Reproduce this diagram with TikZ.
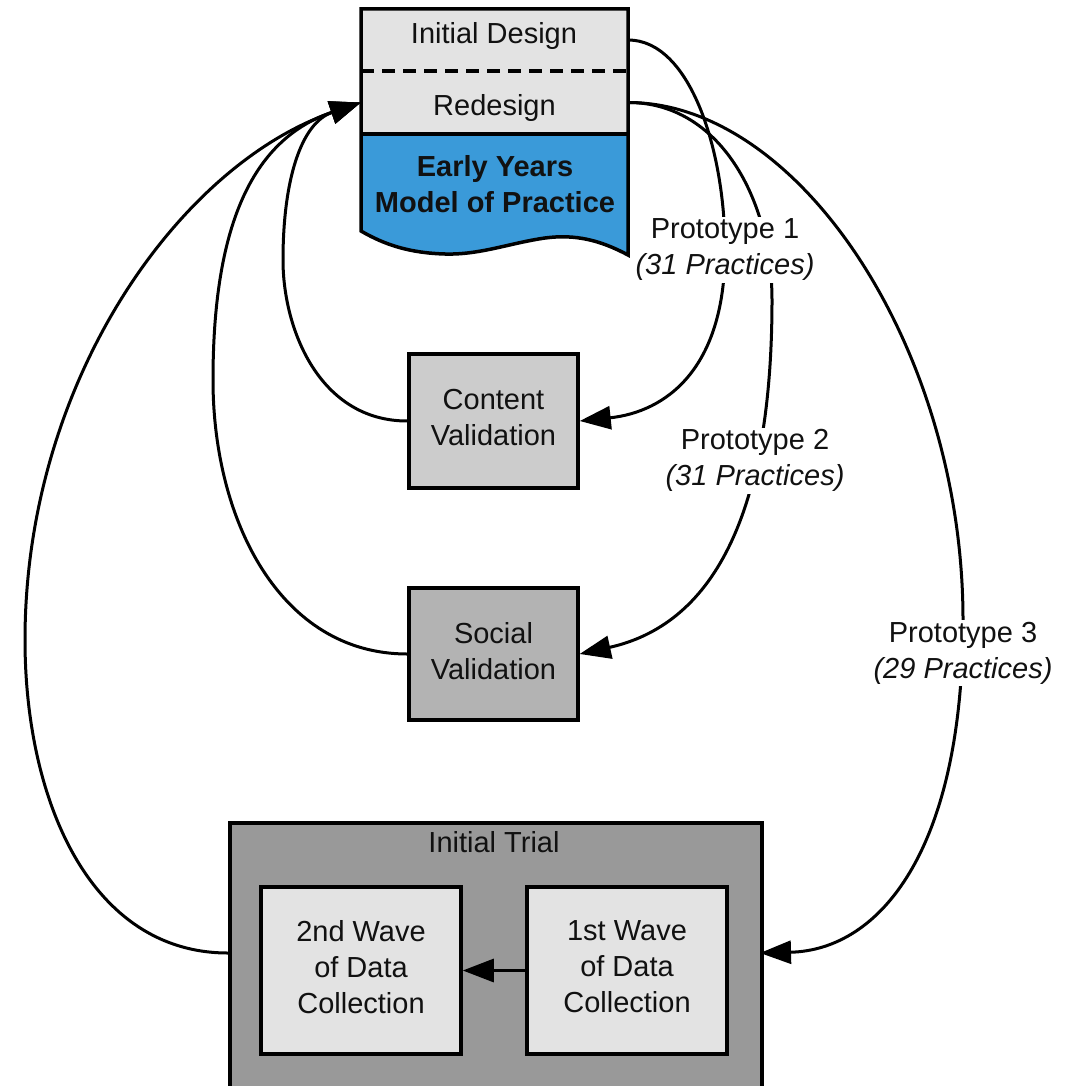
\documentclass[tikz,border=0pt]{standalone}
\usepackage{fontspec}
\setmainfont{Liberation Sans}
\usetikzlibrary{arrows.meta}
\definecolor{lightbox}{HTML}{E3E3E3}
\definecolor{contentgray}{HTML}{CCCCCC}
\definecolor{socialgray}{HTML}{B3B3B3}
\definecolor{trialgray}{HTML}{999999}
\definecolor{modelblue}{HTML}{3A9AD9}
\definecolor{txt}{HTML}{111111}
\begin{document}
\begin{tikzpicture}[x=1pt,y=-1pt,
  every node/.style={font=\fontsize{29}{36}\selectfont, text=txt},
  box/.style={draw=black, line width=3.5pt, align=center, inner sep=0pt, text depth=7pt},
  conn/.style={draw=black, line width=3pt, -{Triangle[length=31pt,width=23pt]}},
  lbl/.style={fill=white, align=center, inner sep=2pt},
  part/.style={inner sep=0pt, minimum width=267pt}]
\useasboundingbox (0,0) rectangle (1081,1086);

% top block
\fill[lightbox] (361,9) rectangle (628,134);
\fill[modelblue] (361,134) -- (628,134) -- (628,255)
  .. controls (600,240) and (575,234) .. (545,238)
  .. controls (510,243) and (480,255) .. (445,254)
  .. controls (410,253) and (385,245) .. (361,231) -- cycle;
\draw[line width=3.5pt, dash pattern=on 13pt off 8pt] (361,71) -- (628,71);
\draw[line width=3.5pt] (361,134) -- (628,134);
\draw[line width=3.5pt, line join=miter] (361,9) -- (628,9) -- (628,255)
  .. controls (600,240) and (575,234) .. (545,238)
  .. controls (510,243) and (480,255) .. (445,254)
  .. controls (410,253) and (385,245) .. (361,231) -- cycle;
\node[part, minimum height=62pt] (initial) at (494.5,40) {};
\node[part, minimum height=63pt] (redesign) at (494.5,102.5) {};
\node (initialtext) at (494,35.65) {Initial Design};
\node (redesigntext) at (494.5,107.65) {Redesign};
\node[align=center, font=\fontsize{29}{36}\selectfont\bfseries] (model) at (495,184.6) {Early Years\\Model of Practice};

% boxes
\node[box, fill=contentgray, minimum width=169pt, minimum height=134pt] (content) at (493.5,421) {Content\\Validation};
\node[box, fill=socialgray, minimum width=169pt, minimum height=132pt] (social) at (493.5,654) {Social\\Validation};
\node[box, fill=trialgray, minimum width=532pt, minimum height=269pt, anchor=north west] (trial) at (228,821) {};
\node (trialtitle) at (494,842.6) {Initial Trial};
\node[box, fill=lightbox, minimum width=200pt, minimum height=167pt] (wave2) at (361,970.5) {2nd Wave\\of Data\\Collection};
\node[box, fill=lightbox, minimum width=200pt, minimum height=167pt] (wave1) at (627,970.5) {1st Wave\\of Data\\Collection};
\coordinate (trialR) at (760,953);
\coordinate (trialL) at (228,953);

% connectors
\draw[conn] (wave1.west) -- (wave2.east);
\draw[conn] (initial.east) .. controls (690,40) and (725,150) .. (725,250)
  .. controls (725,370) and (665,412) .. (content.east);
\draw[conn] (redesign.east) .. controls (720,102.5) and (772,200) .. (772,300)
  .. controls (772,520) and (710,625) .. (social.east);
\draw[conn] (redesign.east) .. controls (800,102.5) and (963,350) .. (963,620)
  .. controls (963,850) and (880,950) .. (trialR);
\draw[conn] (content.west) .. controls (320,421) and (283,330) .. (283,260)
  .. controls (283,180) and (301,123) .. (redesign.west);
\draw[conn] (social.west) .. controls (280,654) and (213,520) .. (213,380)
  .. controls (213,230) and (250,140) .. (redesign.west);
\draw[conn] (trialL) .. controls (90,953) and (25,800) .. (25,640)
  .. controls (25,380) and (180,165) .. (redesign.west);

% labels
\node[lbl] (p1) at (725,249.65) {Prototype 1\\\textit{(31 Practices)}};
\node[lbl] (p2) at (755,460.65) {Prototype 2\\\textit{(31 Practices)}};
\node[lbl] (p3) at (963,653.15) {Prototype 3\\\textit{(29 Practices)}};
\end{tikzpicture}
\end{document}
